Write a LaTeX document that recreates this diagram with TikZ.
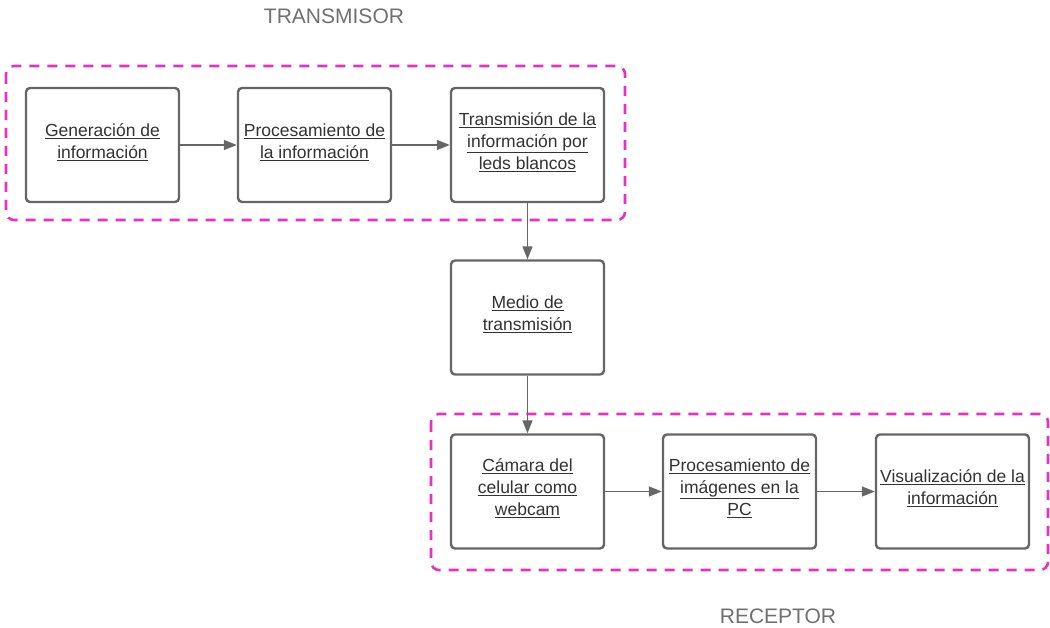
\documentclass[tikz,border=0pt]{standalone}
\usepackage{fontspec}
\setmainfont{Liberation Sans}
\usetikzlibrary{arrows.meta}
\definecolor{boxline}{HTML}{666666}
\definecolor{boxtext}{HTML}{333333}
\definecolor{grouptext}{HTML}{707070}
\definecolor{magentadash}{HTML}{E433BE}
\newcommand{\uln}[1]{\underline{#1}}
\tikzset{
  block/.style={draw=boxline, line width=2.4pt, rounded corners=4pt, fill=white,
    minimum width=153pt, minimum height=114pt, align=center, text=boxtext,
    font=\fontsize{17.5}{22}\selectfont, inner sep=2pt},
  group/.style={draw=magentadash, line width=2.6pt, dash pattern=on 10pt off 8pt, rounded corners=8pt},
  grouplabel/.style={text=grouptext, font=\fontsize{21}{24}\selectfont},
  conn/.style={draw=boxline, line width=1.6pt, -{Triangle[length=13pt,width=10pt]}},
  txt/.style={align=center, text=boxtext, font=\fontsize{17.5}{22}\selectfont, inner sep=0pt}
}
\begin{document}
\begin{tikzpicture}[x=1pt,y=-1pt]
\useasboundingbox (0,0) rectangle (1050,628);
% groups
\draw[group] (6,66) rectangle (625,220);
\draw[group] (431,414) rectangle (1048,570);
\node[grouplabel] (tlab) at (334,16) {TRANSMISOR};
\node[grouplabel] (rlab) at (778,616) {RECEPTOR};
% blocks
\node[block] (gen) at (102.5,145) {};
\node[block] (proc) at (314.5,145) {};
\node[block] (trans) at (527.5,145) {};
\node[block] (medio) at (527.5,317.5) {};
\node[block] (cam) at (527.5,491.5) {};
\node[block] (pimg) at (739.5,491.5) {};
\node[block] (vis) at (952.5,491.5) {};
% texts
\node[txt] (gent) at (102.5,142) {\uln{Generación de}\\\uln{información}};
\node[txt] (proct) at (314.5,142) {\uln{Procesamiento de}\\\uln{la información}};
\node[txt] (transt) at (527.5,142) {\uln{Transmisión de la}\\\uln{información por}\\\uln{leds blancos}};
\node[txt] (mediot) at (527.5,314) {\uln{Medio de}\\\uln{transmisión}};
\node[txt] (camt) at (527.5,488) {\uln{Cámara del}\\\uln{celular como}\\\uln{webcam}};
\node[txt] (pimgt) at (739.5,488) {\uln{Procesamiento de}\\\uln{imágenes en la}\\\uln{PC}};
\node[txt] (vist) at (952.5,488) {\uln{Visualización de la}\\\uln{información}};
% connectors
\draw[conn] (gen) -- (proc);
\draw[conn] (proc) -- (trans);
\draw[conn] (trans) -- (medio);
\draw[conn] (medio) -- (cam);
\draw[conn] (cam) -- (pimg);
\draw[conn] (pimg) -- (vis);
\end{tikzpicture}
\end{document}
